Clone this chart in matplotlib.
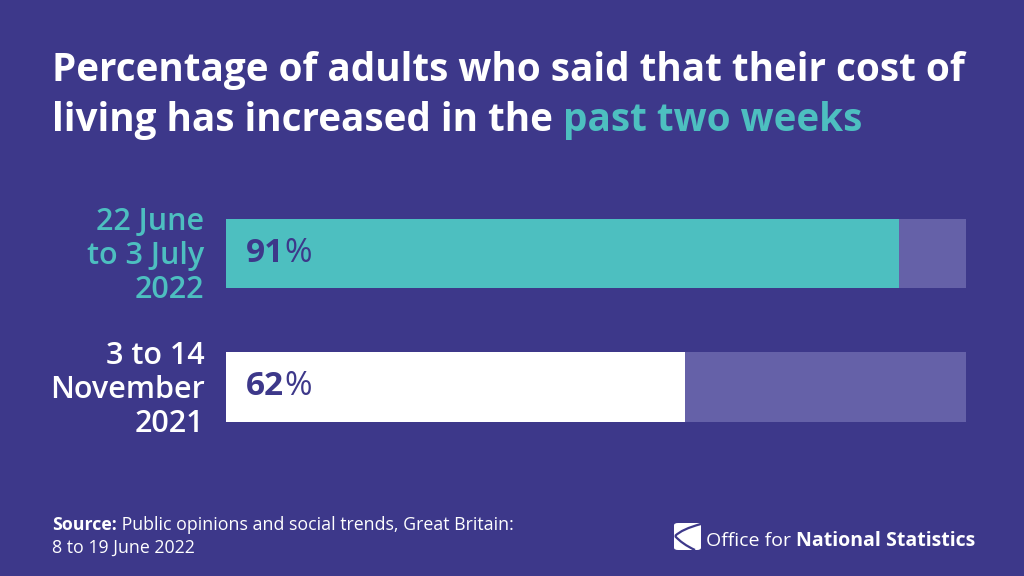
import matplotlib.pyplot as plt
from matplotlib.patches import FancyBboxPatch, PathPatch
from matplotlib.path import Path

plt.rcParams['font.family'] = ['Open Sans', 'DejaVu Sans']

bg = '#3d388a'
teal = '#4dbfc0'
track = '#6561a8'

periods = ['22 June\nto 3 July\n2022', '3 to 14\nNovember\n2021']
values = [91, 62]
bar_colors = [teal, 'white']
label_colors = [teal, 'white']

W, H = 1024, 576
fig = plt.figure(figsize=(W / 100, H / 100), dpi=100, facecolor=bg)


def px(x, y):
    return x / W, 1 - y / H


def run_text(x, y, parts, **kw):
    # draws consecutive pieces of text on one baseline
    fig.canvas.draw()
    r = fig.canvas.get_renderer()
    for s, props in parts:
        t = fig.text(x, y, s, va='baseline', **kw, **props)
        bb = t.get_window_extent(renderer=r)
        x = bb.x1 / W


# title
run_text(*px(52, 81), [('Percentage of adults who said that their cost of', dict(color='white'))],
         fontsize=27.8, fontweight='bold')
run_text(*px(52, 131), [('living has increased in the ', dict(color='white')),
                        ('past two weeks', dict(color=teal))],
         fontsize=27.8, fontweight='bold')

# bars: axes spans y 200..440 px, bar centres at 253.5 and 387 px
ax = fig.add_axes([226 / W, 1 - 440 / H, 740 / W, 240 / H])
ax.set_facecolor('none')
ypos = [1, 0]
ax.barh(ypos, [100] * len(values), height=0.517, color=track, zorder=1)
ax.barh(ypos, values, height=0.517, color=bar_colors, zorder=2)
ax.set_xlim(0, 100)
ax.set_ylim(-0.397, 1.4)
ax.axis('off')

for y, v, lab, lc in zip(ypos, values, periods, label_colors):
    t1 = ax.text(2.7, y, str(v), color=bg, fontsize=24, fontweight='bold', va='center')
    fig.canvas.draw()
    bb = t1.get_window_extent(renderer=fig.canvas.get_renderer())
    xd = ax.transData.inverted().transform((bb.x1, 0))[0]
    ax.text(xd, y, '%', color=bg, fontsize=24, va='center')
    ax.text(-2.9, y - 0.02, lab, color=lc, fontsize=22, fontweight='semibold', ha='right',
            va='center', linespacing=1.18)

# source
run_text(*px(52, 530), [('Source:', dict(fontweight='bold')),
                        (' Public opinions and social trends, Great Britain:', dict())],
         fontsize=12.8, color='white')
fig.text(*px(52, 553), '8 to 19 June 2022', fontsize=12.8, color='white', va='baseline')

# logo
lx, ly = 674, 523
sq = FancyBboxPatch(px(lx, ly + 27), 27 / W, 27 / H, boxstyle='round,pad=0,rounding_size=0.004',
                    transform=fig.transFigure, facecolor='white', edgecolor='none')
fig.patches.append(sq)
for ex, ey in [(lx + 27, ly + 1), (lx + 21, ly + 27)]:
    verts = [px(ex, ey), px(lx + 8, ly + 6 if ey < ly + 10 else ly + 21), px(lx + 1, ly + 13)]
    curve = PathPatch(Path(verts, [Path.MOVETO, Path.CURVE3, Path.CURVE3]),
                      transform=fig.transFigure, facecolor='none', edgecolor=bg, lw=1.6)
    fig.patches.append(curve)
run_text(*px(706, 546), [('Office for ', dict()), ('National Statistics', dict(fontweight='bold'))],
         fontsize=14, color='white')

fig.savefig('out.png', dpi=100, facecolor=bg)
